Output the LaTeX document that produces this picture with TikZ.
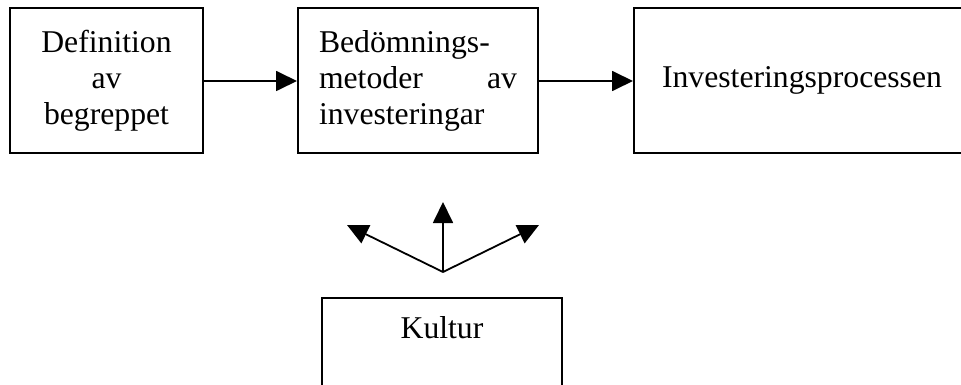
\documentclass[tikz,border=0pt]{standalone}
\usepackage{fontspec}
\setmainfont{Liberation Serif}
\usetikzlibrary{arrows.meta}
\begin{document}
\begin{tikzpicture}[x=1pt,y=-1pt,
  every node/.style={font=\fontsize{31.7}{36}\selectfont},
  stage/.style={draw,line width=2pt,inner sep=0pt,minimum height=145pt},
  flow/.style={line width=1.8pt,-{Triangle[length=21pt,width=20pt]}}]
\useasboundingbox (0,0) rectangle (961,385);
\clip (0,0) rectangle (961,385);
% top row of stages
\node[stage,minimum width=193pt,align=center] (def) at (106.5,80.5)
  {Definition\\av\\begreppet};
\node[stage,minimum width=240pt] (bed) at (418,80.5)
  {\begin{minipage}{198pt}\raggedright
   Bedömnings-\\metoder\hfill av\\investeringar\end{minipage}};
\node[stage,minimum width=336pt] (inv) at (802,80.5) {Investeringsprocessen};
\draw[flow] (def.east |- 0,81) -- (bed.west |- 0,81);
\draw[flow] (bed.east |- 0,81) -- (inv.west |- 0,81);
% culture box with its fan of arrows
\node[draw,line width=2pt,anchor=north,minimum width=240pt,inner sep=10pt,
  text height=30pt,text depth=100pt] (kul) at (442,297) {Kultur};
\coordinate (fan) at (443,272);
\coordinate (fl) at (347,225);
\coordinate (fu) at (443,202);
\coordinate (fr) at (539,225);
\draw[flow] (fan) -- (fl);
\draw[flow] (fan) -- (fu);
\draw[flow] (fan) -- (fr);
\end{tikzpicture}
\end{document}
